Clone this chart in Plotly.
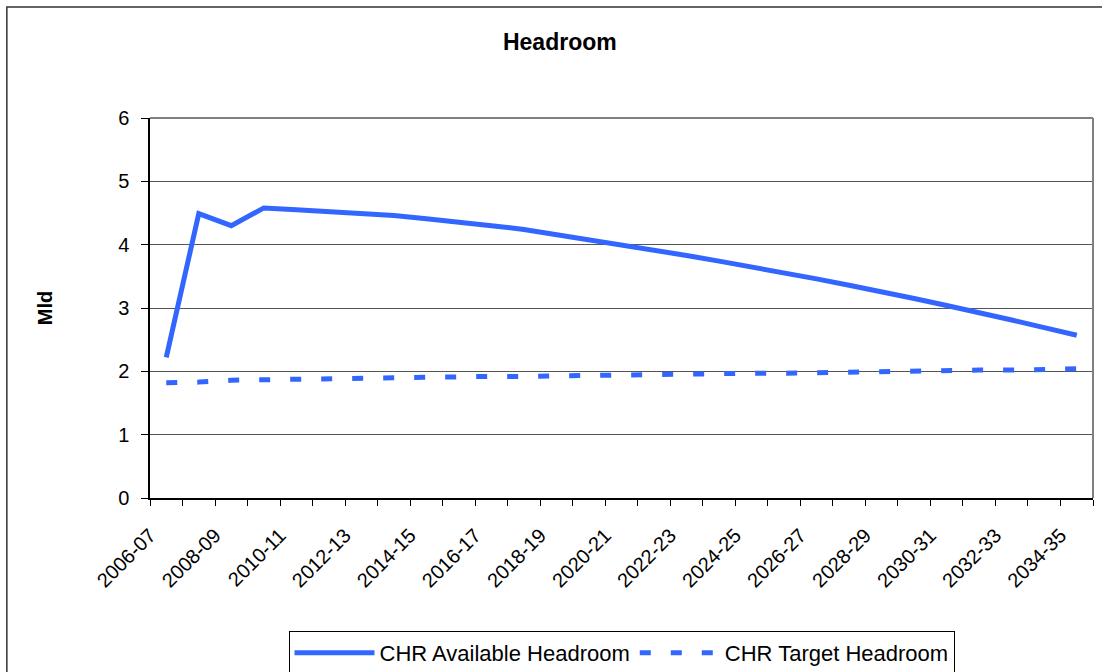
import plotly.graph_objects as go

# Financial years along the horizontal axis
years = [f"{y}-{str(y + 1)[-2:]}" for y in range(2006, 2035)]

# Headroom series (Mld)
available_headroom = [
    2.22, 4.49, 4.30, 4.58, 4.55, 4.52, 4.49, 4.46, 4.41, 4.36,
    4.30, 4.24, 4.16, 4.08, 3.99, 3.91, 3.83, 3.74, 3.65, 3.56,
    3.46, 3.36, 3.26, 3.15, 3.04, 2.93, 2.81, 2.69, 2.57,
]
target_headroom = [
    1.82, 1.83, 1.86, 1.87, 1.88, 1.88, 1.89, 1.90, 1.91, 1.91,
    1.92, 1.92, 1.93, 1.93, 1.94, 1.95, 1.95, 1.96, 1.97, 1.97,
    1.98, 1.99, 2.00, 2.00, 2.01, 2.02, 2.02, 2.03, 2.04,
]

# Each year occupies one slot; tick marks sit on the slot boundaries and
# every other year is labelled at its left boundary.
n = len(years)
slots = list(range(n))
boundaries = [i - 0.5 for i in range(n + 1)]
boundary_text = [years[i] if i < n and i % 2 == 0 else "" for i in range(n + 1)]

BLUE = "#3366FF"
FONT = "Arial, Liberation Sans, sans-serif"

fig = go.Figure()
fig.add_trace(go.Scatter(
    x=slots, y=available_headroom, mode="lines",
    name="CHR Available Headroom", text=years,
    line=dict(color=BLUE, width=5),
))
fig.add_trace(go.Scatter(
    x=slots, y=target_headroom, mode="lines",
    name="CHR Target Headroom", text=years,
    line=dict(color=BLUE, width=5, dash="11px,20px"),
))

fig.update_layout(
    width=1102, height=672,
    margin=dict(l=150, r=9, t=118, b=174, autoexpand=False),
    paper_bgcolor="white", plot_bgcolor="white",
    font=dict(family=FONT, color="black"),
    title=dict(
        text="<b>Headroom</b>", font=dict(size=23, family=FONT),
        x=0.508, xref="container", xanchor="center",
        y=1 - 42 / 672, yref="container", yanchor="middle",
    ),
    showlegend=True,
    legend=dict(
        orientation="h", x=0.5, xanchor="center",
        y=1 - 631 / 672, yref="container", yanchor="top",
        bordercolor="black", borderwidth=1, font=dict(size=22, family=FONT),
        bgcolor="white", itemwidth=80,
    ),
    xaxis=dict(
        range=[-0.5, n - 0.5], tickmode="array",
        tickvals=boundaries, ticktext=boundary_text,
        ticks="outside", ticklen=6, tickcolor="black",
        tickangle=-45, tickfont=dict(size=20), ticklabelstandoff=10,
        showline=True, linecolor="black", linewidth=1.5,
        showgrid=False, zeroline=False,
    ),
    yaxis=dict(
        range=[0, 6], dtick=1, ticks="outside", ticklen=7, tickcolor="black",
        tickfont=dict(size=20), ticklabelstandoff=8,
        showline=True, linecolor="black", linewidth=1.5,
        showgrid=True, gridcolor="#555555", gridwidth=1, zeroline=False,
        title=dict(text="<b>Mld</b>", font=dict(size=20), standoff=60),
    ),
    shapes=[
        # Plot area frame (top and right edges)
        dict(type="line", xref="paper", yref="paper", x0=0, x1=1, y0=1, y1=1,
             line=dict(color="#808080", width=2)),
        dict(type="line", xref="paper", yref="paper", x0=1, x1=1, y0=0, y1=1,
             line=dict(color="#808080", width=2)),
        # Chart area border
        dict(type="rect", xref="paper", yref="paper",
             x0=(7 - 150) / 942, x1=1.05, y0=-0.6, y1=(498 - 7) / 380,
             line=dict(color="#333333", width=1.5), layer="below"),
    ],
)

fig.write_html("out.html")
